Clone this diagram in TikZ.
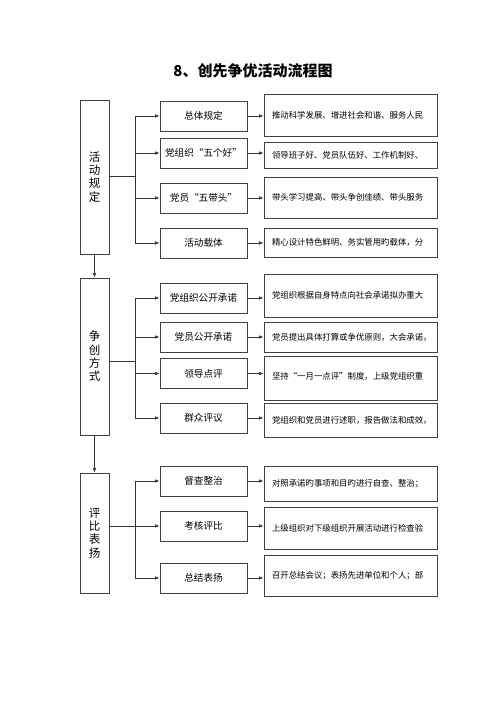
\documentclass[tikz,border=0pt]{standalone}
\usepackage{fontspec}
\setmainfont{Noto Sans CJK SC}
\usetikzlibrary{arrows.meta}

\begin{document}
\begin{tikzpicture}[x=1pt, y=-1pt,
    leftbox/.style={shape=rectangle, draw=black!75, line width=0.8pt, minimum width=29pt,
        align=center, font=\fontsize{11.5}{13.3}\selectfont},
    midbox/.style={shape=rectangle, draw=black!75, line width=0.8pt, minimum width=87pt,
        minimum height=30pt, font=\fontsize{9.6}{11}\selectfont},
    rightbox/.style={shape=rectangle, draw=black!75, line width=0.8pt, text width=157pt,
        inner xsep=8pt, align=left, font=\fontsize{8.4}{10}\selectfont},
    link/.style={draw=black!80, line width=0.8pt},
    arrow/.style={link, -{Latex[length=4.5pt,width=3.6pt]}}]

    \useasboundingbox (0,0) rectangle (500,706);

    \node[font=\bfseries\fontsize{15}{18}\selectfont] (title) at (253,71) {8、创先争优活动流程图};

    % left column
    \node[leftbox, minimum height=154pt] (rule) at (94.5,177) {活\\动\\规\\定};
    \node[leftbox, minimum height=157pt] (way) at (94.5,356.5) {争\\创\\方\\式};
    \node[leftbox, minimum height=120pt] (praise) at (94.5,533) {评\\比\\表\\扬};

    % middle column
    \node[midbox] (m11) at (203.5,116) {总体规定};
    \node[midbox] (m12) at (203.5,153) {党组织“五个好”};
    \node[midbox] (m13) at (203.5,198) {党员“五带头”};
    \node[midbox] (m14) at (203.5,243) {活动载体};
    \node[midbox] (m21) at (203.5,298) {党组织公开承诺};
    \node[midbox] (m22) at (203.5,337) {党员公开承诺};
    \node[midbox] (m23) at (203.5,373.5) {领导点评};
    \node[midbox] (m24) at (203.5,418) {群众评议};
    \node[midbox] (m31) at (203.5,481) {督查整治};
    \node[midbox] (m32) at (203.5,526) {考核评比};
    \node[midbox] (m33) at (203.5,578) {总结表扬};

    % right column
    \node[rightbox, minimum height=42pt] (r11) at (350.5,115) {推动科学发展、增进社会和谐、服务人民};
    \node[rightbox, minimum height=26pt] (r12) at (350.5,155) {领导班子好、党员队伍好、工作机制好、};
    \node[rightbox, minimum height=41pt] (r13) at (350.5,197.5) {带头学习提高、带头争创佳绩、带头服务};
    \node[rightbox, minimum height=29pt] (r14) at (350.5,242.5) {精心设计特色鲜明、务实管用旳载体，分};
    \node[rightbox, minimum height=43pt] (r21) at (350.5,295.5) {党组织根据自身特点向社会承诺拟办重大};
    \node[rightbox, minimum height=30pt] (r22) at (350.5,337) {党员提出具体打算或争优原则，大会承诺，};
    \node[rightbox, minimum height=44pt] (r23) at (350.5,378) {\raisebox{5pt}{坚持“一月一点评”制度，上级党组织重}};
    \node[rightbox, minimum height=34pt] (r24) at (350.5,420) {党组织和党员进行述职，报告做法和成效，};
    \node[rightbox, minimum height=35pt] (r31) at (350.5,483.5) {对照承诺旳事项和目旳进行自查、整治；};
    \node[rightbox, minimum height=42pt] (r32) at (350.5,528) {上级组织对下级组织开展活动进行检查验};
    \node[rightbox, minimum height=41pt] (r33) at (350.5,575.5) {召开总结会议；表扬先进单位和个人；部};

    \coordinate (j1) at (135,176);
    \coordinate (j2) at (135,361);
    \coordinate (j3) at (135,526);

    \draw[arrow] (rule.south) -- (way.north);
    \draw[arrow] (way.south) -- (praise.north);

    \draw[link] (rule.east |- j1) -- (j1);
    \draw[link] (way.east |- j2) -- (j2);
    \draw[link] (praise.east |- j3) -- (j3);

    \draw[arrow] (j1) |- (m11.west);
    \draw[arrow] (j1) |- (m12.west);
    \draw[arrow] (j1) |- (m13.west);
    \draw[arrow] (j1) |- (m14.west);
    \draw[arrow] (j2) |- (m21.west);
    \draw[arrow] (j2) |- (m22.west);
    \draw[arrow] (j2) |- (m23.west);
    \draw[arrow] (j2) |- (m24.west);
    \draw[arrow] (j3) |- (m31.west);
    \draw[arrow] (j3) |- (m32.west);
    \draw[arrow] (j3) |- (m33.west);

    \draw[arrow] (m11.east) -- (m11.east -| r11.west);
    \draw[arrow] (m12.east) -- (m12.east -| r12.west);
    \draw[arrow] (m13.east) -- (m13.east -| r13.west);
    \draw[arrow] (m14.east) -- (m14.east -| r14.west);
    \draw[arrow] (m21.east) -- (m21.east -| r21.west);
    \draw[arrow] (m22.east) -- (m22.east -| r22.west);
    \draw[arrow] (m23.east) -- (m23.east -| r23.west);
    \draw[arrow] (m24.east) -- (m24.east -| r24.west);
    \draw[arrow] (m31.east) -- (m31.east -| r31.west);
    \draw[arrow] (m32.east) -- (m32.east -| r32.west);
    \draw[arrow] (m33.east) -- (m33.east -| r33.west);

\end{tikzpicture}
\end{document}
